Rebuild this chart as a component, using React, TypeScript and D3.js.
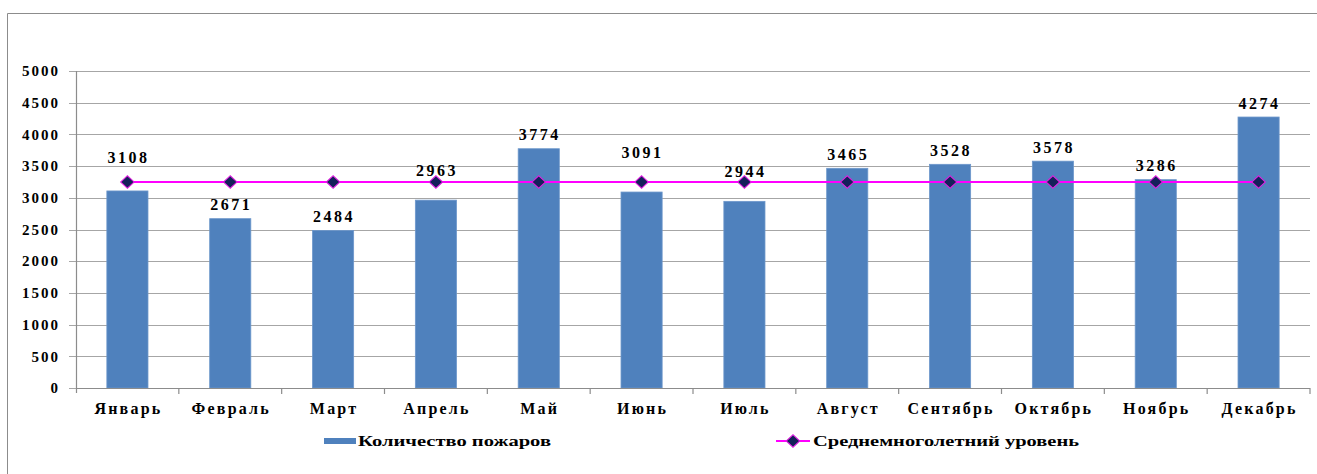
import { useEffect, useRef } from "react";
import * as d3 from "d3";

const months = [
  "Январь", "Февраль", "Март", "Апрель", "Май", "Июнь",
  "Июль", "Август", "Сентябрь", "Октябрь", "Ноябрь", "Декабрь",
];
const fires = [3108, 2671, 2484, 2963, 3774, 3091, 2944, 3465, 3528, 3578, 3286, 4274];
const longTermAvg = months.map(() => 3250);
const yTicks = d3.range(0, 5001, 500);
// manually dragged data labels in the original (extra lift in px)
const labelLift = [20, 0, 0, 16, 0, 26, 16, 0, 0, 0, 0, 0];

const seriesBarName = "Количество пожаров";
const seriesLineName = "Среднемноголетний уровень";

export default function App() {
  const svgRef = useRef<SVGSVGElement>(null);
  const width = 1317;
  const height = 474;

  useEffect(() => {
    if (!svgRef.current) return;
    const svg = d3.select(svgRef.current);
    svg.selectAll("*").remove();

    const left = 76;
    const right = 1310;
    const top = 71;
    const bottom = 388;
    const font = "'Liberation Serif', 'Times New Roman', serif";

    const x = d3.scaleBand<string>().domain(months).range([left, right]).paddingInner(0.6).paddingOuter(0.3);
    const xBand = d3.scaleBand<string>().domain(months).range([left, right]);
    const y = d3.scaleLinear().domain([0, 5000]).range([bottom, top]);

    svg.append("rect").attr("width", width).attr("height", height).attr("fill", "#fff");

    // outer chart frame
    svg
      .append("path")
      .attr("d", `M 7.5 ${height} V 13.5 H ${width}`)
      .attr("fill", "none")
      .attr("stroke", "#8c8c8c")
      .attr("stroke-width", 1);

    // gridlines
    svg
      .append("g")
      .selectAll("line")
      .data(yTicks)
      .join("line")
      .attr("x1", left - 7)
      .attr("x2", right)
      .attr("y1", (d) => Math.round(y(d)) + 0.5)
      .attr("y2", (d) => Math.round(y(d)) + 0.5)
      .attr("stroke", "#a6a6a6")
      .attr("stroke-width", 1.2);

    // y axis labels
    svg
      .append("g")
      .selectAll("text")
      .data(yTicks)
      .join("text")
      .attr("x", 60)
      .attr("y", (d) => y(d))
      .attr("dy", "0.35em")
      .attr("text-anchor", "end")
      .attr("font-family", font)
      .attr("font-weight", "bold")
      .attr("font-size", 15)
      .attr("letter-spacing", 2)
      .attr("fill", "#000")
      .text((d) => d);

    // bars
    svg
      .append("g")
      .selectAll("rect")
      .data(fires)
      .join("rect")
      .attr("x", (_, i) => x(months[i])!)
      .attr("y", (d) => y(d))
      .attr("width", x.bandwidth())
      .attr("height", (d) => y(0) - y(d))
      .attr("fill", "#4F81BD")
      .attr("stroke", "#6d97cb")
      .attr("stroke-width", 0.8);

    // axes lines
    svg
      .append("line")
      .attr("x1", left + 0.5)
      .attr("x2", left + 0.5)
      .attr("y1", top)
      .attr("y2", bottom + 5)
      .attr("stroke", "#8c8c8c")
      .attr("stroke-width", 1.2);
    svg
      .append("line")
      .attr("x1", left)
      .attr("x2", right)
      .attr("y1", bottom + 0.5)
      .attr("y2", bottom + 0.5)
      .attr("stroke", "#8c8c8c")
      .attr("stroke-width", 1.2);
    svg
      .append("g")
      .selectAll("line")
      .data(months)
      .join("line")
      .attr("x1", (d) => xBand(d)! + xBand.bandwidth())
      .attr("x2", (d) => xBand(d)! + xBand.bandwidth())
      .attr("y1", bottom)
      .attr("y2", bottom + 6)
      .attr("stroke", "#8c8c8c")
      .attr("stroke-width", 1.2);

    // category labels
    svg
      .append("g")
      .selectAll("text")
      .data(months)
      .join("text")
      .attr("x", (d) => xBand(d)! + xBand.bandwidth() / 2 + 1)
      .attr("y", 408)
      .attr("dy", "0.35em")
      .attr("text-anchor", "middle")
      .attr("font-family", font)
      .attr("font-weight", "bold")
      .attr("font-size", 16)
      .attr("letter-spacing", 2.2)
      .attr("fill", "#000")
      .text((d) => d);

    // average line
    const line = d3
      .line<number>()
      .x((_, i) => xBand(months[i])! + xBand.bandwidth() / 2)
      .y((d) => y(d));
    svg
      .append("path")
      .datum(longTermAvg)
      .attr("d", line)
      .attr("fill", "none")
      .attr("stroke", "#FF00FF")
      .attr("stroke-width", 2);

    const diamond = d3.symbol().type(d3.symbolSquare).size(78);
    svg
      .append("g")
      .selectAll("path")
      .data(longTermAvg)
      .join("path")
      .attr("transform", (d, i) => `translate(${xBand(months[i])! + xBand.bandwidth() / 2},${y(d)}) scale(1.08,1) rotate(45)`)
      .attr("d", diamond)
      .attr("fill", "#14205a")
      .attr("stroke", "#e020e0")
      .attr("stroke-width", 1);

    // data labels
    svg
      .append("g")
      .selectAll("text")
      .data(fires)
      .join("text")
      .attr("x", (_, i) => xBand(months[i])! + xBand.bandwidth() / 2 + 1)
      .attr("y", (d, i) => y(d) - 14 - labelLift[i])
      .attr("dy", "0.35em")
      .attr("text-anchor", "middle")
      .attr("font-family", font)
      .attr("font-weight", "bold")
      .attr("font-size", 16)
      .attr("letter-spacing", 2.5)
      .attr("fill", "#000")
      .text((d) => d);

    // legend
    const legend = svg.append("g").attr("font-family", font).attr("font-weight", "bold").attr("font-size", 15);
    legend.append("rect").attr("x", 324).attr("y", 438).attr("width", 32).attr("height", 6).attr("fill", "#4F81BD");
    legend
      .append("text")
      .attr("x", 358)
      .attr("y", 441)
      .attr("dy", "0.35em")
      .attr("textLength", 193)
      .attr("lengthAdjust", "spacingAndGlyphs")
      .text(seriesBarName);
    legend
      .append("line")
      .attr("x1", 776)
      .attr("x2", 810)
      .attr("y1", 441)
      .attr("y2", 441)
      .attr("stroke", "#FF00FF")
      .attr("stroke-width", 2);
    legend
      .append("path")
      .attr("transform", "translate(793,441) scale(1.08,1) rotate(45)")
      .attr("d", diamond)
      .attr("fill", "#14205a")
      .attr("stroke", "#e020e0")
      .attr("stroke-width", 1);
    legend
      .append("text")
      .attr("x", 813)
      .attr("y", 441)
      .attr("dy", "0.35em")
      .attr("textLength", 266)
      .attr("lengthAdjust", "spacingAndGlyphs")
      .text(seriesLineName);
  }, []);

  return (
    <svg
      ref={svgRef}
      width={width}
      height={height}
      viewBox={`0 0 ${width} ${height}`}
      style={{ position: "absolute", left: 0, top: 0, display: "block" }}
    />
  );
}
